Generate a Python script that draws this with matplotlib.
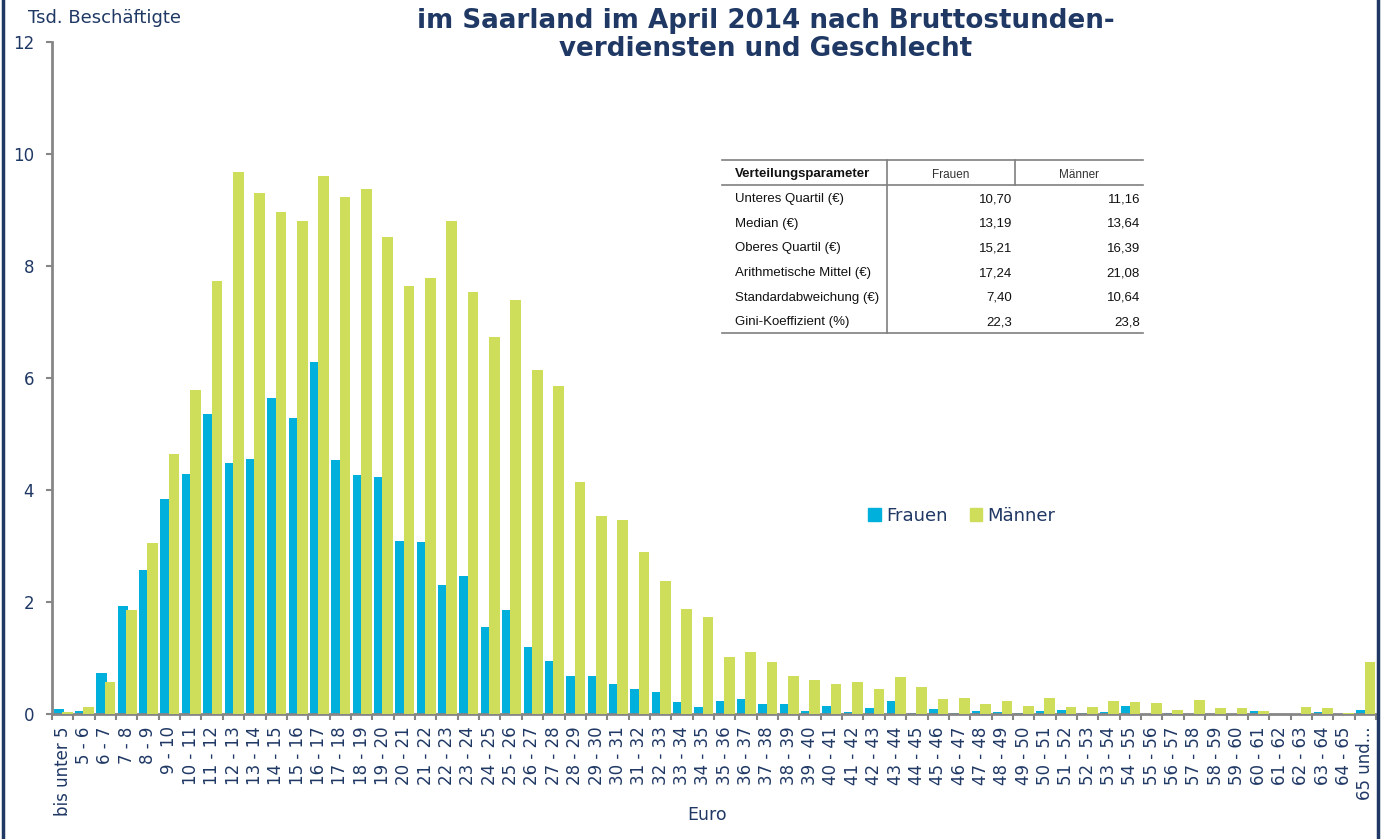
"""Beschäftigte im Saarland nach Bruttostundenverdiensten und Geschlecht (April 2014)."""

import matplotlib

matplotlib.use("Agg")
import matplotlib.pyplot as plt
import numpy as np
from matplotlib.lines import Line2D
from matplotlib.patches import Patch

W, H = 1386, 839
NAVY = "#1F3864"
GREY = "#868686"
BLUE = "#00B0DC"
GREEN = "#CEDE5A"

# Klassen der Bruttostundenverdienste (Euro)
categories = ["bis unter 5"] + [f"{a} - {a + 1}" for a in range(5, 65)] + ["65 und..."]

# Tsd. Beschäftigte
frauen = [
    0.09, 0.06, 0.74, 1.92, 2.58, 3.84, 4.29, 5.36, 4.48, 4.55,
    5.64, 5.29, 6.28, 4.54, 4.26, 4.24, 3.09, 3.07, 2.30, 2.46,
    1.56, 1.86, 1.20, 0.95, 0.67, 0.67, 0.54, 0.45, 0.40, 0.22,
    0.12, 0.24, 0.26, 0.18, 0.18, 0.05, 0.14, 0.03, 0.11, 0.24,
    0.01, 0.09, 0.02, 0.06, 0.04, 0.01, 0.06, 0.07, 0.01, 0.03,
    0.14, 0.00, 0.01, 0.00, 0.00, 0.00, 0.06, 0.00, 0.00, 0.04,
    0.00, 0.08,
]
maenner = [
    0.04, 0.12, 0.58, 1.86, 3.05, 4.64, 5.78, 7.73, 9.68, 9.30,
    8.97, 8.81, 9.60, 9.23, 9.38, 8.52, 7.64, 7.79, 8.80, 7.54,
    6.74, 7.39, 6.14, 5.86, 4.14, 3.54, 3.46, 2.89, 2.38, 1.88,
    1.73, 1.02, 1.10, 0.93, 0.68, 0.61, 0.54, 0.57, 0.45, 0.66,
    0.48, 0.26, 0.29, 0.18, 0.23, 0.14, 0.28, 0.13, 0.12, 0.24,
    0.22, 0.20, 0.08, 0.25, 0.10, 0.10, 0.05, 0.00, 0.13, 0.11,
    0.02, 0.92,
]

# Tabelle der Verteilungsparameter
param_names = [
    "Unteres Quartil (€)",
    "Median (€)",
    "Oberes Quartil (€)",
    "Arithmetische Mittel (€)",
    "Standardabweichung (€)",
    "Gini-Koeffizient (%)",
]
param_frauen = ["10,70", "13,19", "15,21", "17,24", "7,40", "22,3"]
param_maenner = ["11,16", "13,64", "16,39", "21,08", "10,64", "23,8"]


def fx(px):
    return px / W


def fy(py):
    return 1 - py / H


plt.rcParams["font.family"] = ["DejaVu Sans"]
fig = plt.figure(figsize=(W / 100, H / 100), dpi=100)
ax = fig.add_axes([fx(52), fy(714), (1376 - 52) / W, (714 - 42) / H])

x = np.arange(len(categories))
ax.bar(x - 0.17, frauen, width=0.5, color=BLUE, edgecolor="none", zorder=2)
ax.bar(x + 0.22, maenner, width=0.5, color=GREEN, edgecolor="none", zorder=3)

ax.set_xlim(-0.5, len(categories) - 0.5)
ax.set_ylim(0, 12)
ax.set_yticks(range(0, 13, 2))
ax.tick_params(axis="y", direction="out", length=4.3, width=1.5, color=GREY,
               pad=8.5, labelsize=12, labelcolor=NAVY)

ax.set_xticks(x)
ax.set_xticklabels(categories, rotation=90, ha="center", va="top")
ax.set_xticks(np.arange(-0.5, len(categories), 1), minor=True)
ax.tick_params(axis="x", which="major", length=0, pad=9, labelsize=12, labelcolor=NAVY)
ax.tick_params(axis="x", which="minor", direction="out", length=4, width=1.5, color=GREY)

for s in ("top", "right"):
    ax.spines[s].set_visible(False)
for s in ("left", "bottom"):
    ax.spines[s].set_color(GREY)
    ax.spines[s].set_linewidth(2)

fig.text(fx(707), fy(815), "Euro", ha="center", va="center", fontsize=12.5, color=NAVY)
fig.text(fx(28), fy(18), "Tsd. Beschäftigte", ha="left", va="center", fontsize=13, color=NAVY)
fig.text(fx(766), fy(35), "im Saarland im April 2014 nach Bruttostunden-\nverdiensten und Geschlecht",
         ha="center", va="center", fontsize=18.8, fontweight="bold", color=NAVY, linespacing=1.15)

handles = [Patch(color=BLUE, label="Frauen"), Patch(color=GREEN, label="Männer")]
fig.legend(handles=handles, loc="center", bbox_to_anchor=(fx(962), fy(516)), ncol=2,
           frameon=False, fontsize=13, handlelength=0.7, handleheight=0.7,
           handletextpad=0.3, columnspacing=1.2, labelcolor=NAVY)

# Tabelle
tab_l, tab_r, col1, col2 = 722, 1143, 887, 1015
top, head_bot, bot = 160, 185, 333
line_kw = dict(color="#7F7F7F", lw=1.2, transform=fig.transFigure)
fig.add_artist(Line2D([fx(tab_l), fx(tab_r)], [fy(top), fy(top)], **line_kw))
fig.add_artist(Line2D([fx(tab_l), fx(tab_r)], [fy(head_bot), fy(head_bot)], **line_kw))
fig.add_artist(Line2D([fx(tab_l), fx(tab_r)], [fy(bot), fy(bot)], **line_kw))
fig.add_artist(Line2D([fx(col1), fx(col1)], [fy(top), fy(bot)], **line_kw))
fig.add_artist(Line2D([fx(col2), fx(col2)], [fy(top), fy(head_bot)], **line_kw))

tab_font = ["Liberation Sans", "DejaVu Sans"]
fig.text(fx(735), fy(174), "Verteilungsparameter", ha="left", va="center", fontsize=9.5,
         fontweight="bold", family=tab_font, color="#111111")
fig.text(fx(951), fy(175), "Frauen", ha="center", va="center", fontsize=8.5,
         family=tab_font, color="#333333")
fig.text(fx(1079), fy(175), "Männer", ha="center", va="center", fontsize=8.5,
         family=tab_font, color="#333333")
for k, (name, vf, vm) in enumerate(zip(param_names, param_frauen, param_maenner)):
    yy = fy(199 + k * 24.7)
    fig.text(fx(735), yy, name, ha="left", va="center", fontsize=9.5, family=tab_font, color="#111111")
    fig.text(fx(1012), yy, vf, ha="right", va="center", fontsize=9.5, family=tab_font, color="#111111")
    fig.text(fx(1140), yy, vm, ha="right", va="center", fontsize=9.5, family=tab_font, color="#111111")

# Rahmen links und rechts
fig.add_artist(Line2D([fx(3), fx(3)], [0, 1], color=NAVY, lw=2.5, transform=fig.transFigure))
fig.add_artist(Line2D([fx(1378), fx(1378)], [0, 1], color=NAVY, lw=2.5, transform=fig.transFigure))

fig.savefig("out.png", dpi=100)
